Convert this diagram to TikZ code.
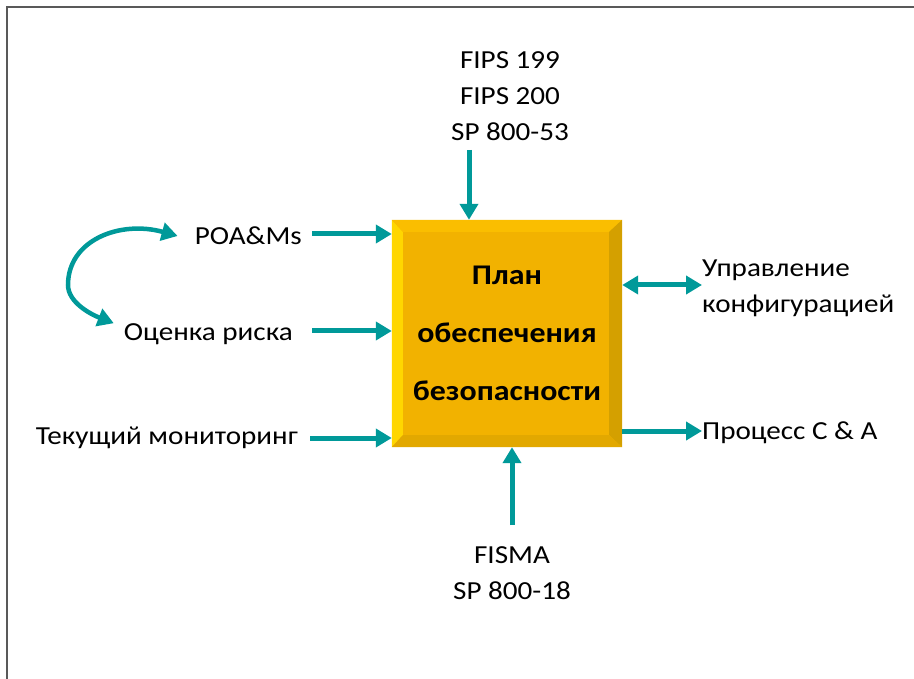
\documentclass[tikz,border=0pt]{standalone}
\usepackage{fontspec}
\setmainfont{Carlito}[FakeStretch=1.12]
\usetikzlibrary{arrows.meta, positioning, calc}

\definecolor{arrowteal}{RGB}{0,153,153}
\definecolor{goldface}{RGB}{242,178,0}
\definecolor{bevelleft}{RGB}{255,214,0}
\definecolor{beveltop}{RGB}{250,190,0}
\definecolor{bevelright}{RGB}{212,160,0}
\definecolor{bevelbottom}{RGB}{226,168,0}

\begin{document}
\begin{tikzpicture}[
  x=1pt, y=-1pt,
  txt/.style={font=\fontsize{26}{36}\selectfont, align=center, inner sep=0pt},
  planbox/.style={fill=goldface, minimum width=230pt, minimum height=227pt, inner sep=0pt, font=\fontsize{28.5}{58}\selectfont\bfseries, align=center},
  flow/.style={-{Triangle[length=16pt, width=18pt]}, line width=5pt, arrowteal},
  both/.style={{Triangle[length=16pt, width=18pt]}-{Triangle[length=16pt, width=18pt]}, line width=5pt, arrowteal}
]
\useasboundingbox (0,0) rectangle (914,679);

% Frame
\draw[gray!70!black, line width=1.5pt] (7,679) -- (7,7) -- (914,7);

% Central box
\node[planbox] (plan) at (507,333.5) {План\\обеспечения\\безопасности};

% Bevelled edges
\fill[bevelleft] (plan.north west) -- ++(11,12) -- ($(plan.south west)+(11,-12)$) -- (plan.south west) -- cycle;
\fill[beveltop] (plan.north west) -- (plan.north east) -- ++(-13,12) -- ($(plan.north west)+(11,12)$) -- cycle;
\fill[bevelright] (plan.north east) -- (plan.south east) -- ++(-13,-12) -- ($(plan.north east)+(-13,12)$) -- cycle;
\fill[bevelbottom] (plan.south west) -- (plan.south east) -- ++(-13,-12) -- ($(plan.south west)+(11,-12)$) -- cycle;

% Standards above
\node[txt] (fips) at (510,96) {FIPS 199\\FIPS 200\\SP 800-53};
\coordinate (fipsin) at (469,150);
\draw[flow] (fipsin) -- (fipsin |- plan.north);

% Inputs on the left
\node[txt, anchor=east] (poam) at (302,236) {POA\&Ms};
\node[txt, anchor=east] (risk) at (293,334) {Оценка риска};
\node[txt, anchor=east] (monitor) at (298,438) {Текущий мониторинг};

\draw[flow] ([xshift=10pt, yshift=2pt]poam.east) -- ([yshift=2pt]poam.east -| plan.west);
\draw[flow] ([xshift=19pt, yshift=3pt]risk.east) -- ([yshift=3pt]risk.east -| plan.west);
\draw[flow] ([xshift=12pt]monitor.east) -- (monitor.east -| plan.west);

% Loop between POA&Ms and risk
\draw[both, line width=4.5pt] ([xshift=-17pt]poam.west) .. controls (120,220) and (68,240) .. (68,285)
  .. controls (68,302) and (90,314) .. ([xshift=-10pt]risk.north west);

% Outputs on the right
\node[txt, anchor=west, align=left] (config) at (702,288) {Управление\\конфигурацией};
\node[txt, anchor=west] (process) at (702,433) {Процесс C \& A};

\coordinate (confl) at ([yshift=3pt]config.west);
\draw[both] (confl -| plan.east) -- (confl);
\draw[flow] ([yshift=2pt]process.west -| plan.east) -- ([yshift=2pt]process.west);

% Standards below
\node[txt] (fisma) at (512,573) {FISMA\\SP 800-18};
\coordinate (fismaout) at (512,525);
\draw[flow] (fismaout) -- (fismaout |- plan.south);

\end{tikzpicture}
\end{document}
